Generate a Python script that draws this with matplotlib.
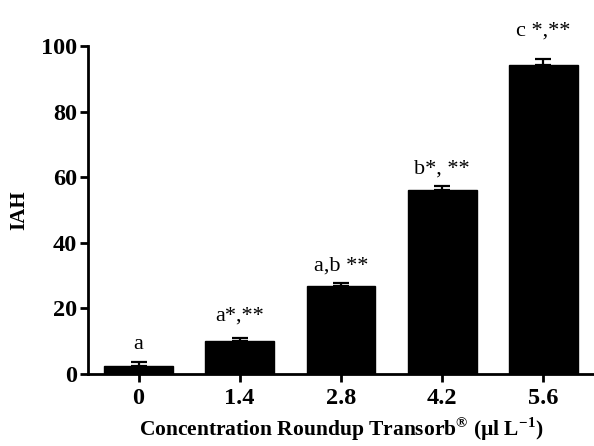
import numpy as np
import matplotlib.pyplot as plt

# values
conc = ['0', '1.4', '2.8', '4.2', '5.6']
iah = [2.5, 10.2, 26.9, 56.0, 94.2]
sem = [1.3, 0.9, 0.9, 1.4, 1.8]
letters = ['a', 'a*,**', 'a,b **', 'b*, **', 'c *,**']

plt.rcParams["font.family"] = "Liberation Serif"
plt.rcParams["mathtext.fontset"] = "custom"
plt.rcParams["mathtext.rm"] = "Liberation Serif"
plt.rcParams["mathtext.bf"] = "Liberation Serif:bold"
fig = plt.figure(figsize=(5.94, 4.46), dpi=100)
ax = fig.add_axes([0.148, 0.1614, 0.852, 0.7355])

x = np.arange(len(conc))
ax.bar(x, iah, width=0.68, color='black', edgecolor='black', zorder=2)
ax.errorbar(x, iah, yerr=[np.zeros(len(sem)), sem], fmt='none', ecolor='black',
            elinewidth=1.6, capsize=6, capthick=1.6, zorder=3)

pads = [9, 12, 9, 9, 17]
for i in range(len(conc)):
    ax.annotate(letters[i], (x[i], iah[i] + sem[i]), xytext=(0, pads[i]),
                textcoords='offset points', ha='center', va='baseline',
                fontsize=16, annotation_clip=False)

ax.set_xlim(-0.5, 4.5)
ax.set_ylim(0, 100)
ax.set_xticks(x)
ax.set_xticklabels(conc)
ax.set_yticks([0, 20, 40, 60, 80, 100])
for lab in ax.get_xticklabels() + ax.get_yticklabels():
    lab.set_fontweight('bold')
    lab.set_fontsize(17.5)
ax.tick_params(width=2, length=6, pad=2)
ax.tick_params(axis='x', pad=4)

ax.spines['top'].set_visible(False)
ax.spines['right'].set_visible(False)
ax.spines['left'].set_linewidth(2)
ax.spines['bottom'].set_linewidth(2)

ax.set_ylabel('IAH', fontweight='bold', fontsize=15, labelpad=8)
ax.set_xlabel('Concentration Roundup Transorb$^{\\mathbf{®}}$ (µl L$^{\\mathbf{-1}}$)',
              fontweight='bold', fontsize=15.5, labelpad=5)

plt.savefig('out.png', dpi=100)
